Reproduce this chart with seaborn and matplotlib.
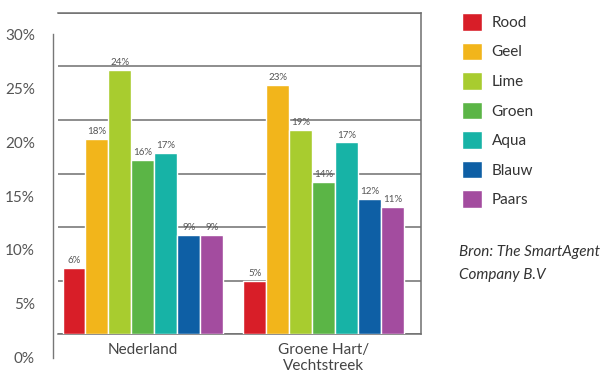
import matplotlib
matplotlib.use("Agg")
import matplotlib.pyplot as plt
import seaborn as sns
import pandas as pd

regions = ["Nederland", "Groene Hart/\nVechtstreek"]
kleuren = ["Rood", "Geel", "Lime", "Groen", "Aqua", "Blauw", "Paars"]
waarden_nl = [6.2, 18.2, 24.7, 16.3, 16.9, 9.3, 9.3]
waarden_ghv = [5.0, 23.3, 19.1, 14.2, 17.9, 12.6, 11.9]
labels_nl = ["6%", "18%", "24%", "16%", "17%", "9%", "9%"]
labels_ghv = ["5%", "23%", "19%", "14%", "17%", "12%", "11%"]
y_ticks = [0, 5, 10, 15, 20, 25, 30]
palette = ["#D81E28", "#F2B51B", "#A8CC2F", "#5BB546", "#17B3A6", "#0E5FA5", "#A34C9F"]

df = pd.DataFrame({
    "region": [regions[0]] * 7 + [regions[1]] * 7,
    "kleur": kleuren * 2,
    "waarde": waarden_nl + waarden_ghv,
})

sns.set_style("white")
plt.rcParams["font.family"] = ["Lato", "DejaVu Sans"]

W, H = 611, 379
fig = plt.figure(figsize=(W / 100, H / 100), dpi=100)
ax = fig.add_axes([58 / W, 1 - 334.3 / H, 363 / W, 321.6 / H])

sns.barplot(data=df, x="region", y="waarde", hue="kleur", palette=palette,
            width=0.89, saturation=1, ax=ax, legend=True, zorder=3)
handles, lbls = ax.get_legend_handles_labels()
ax.get_legend().remove()

ax.set_xlim(-0.47, 1.54)
ax.set_ylim(0, 30)
ax.set_yticks(y_ticks)
ax.yaxis.grid(True, color="#6f6f6f", linewidth=1.1, zorder=0)
ax.set_axisbelow(True)
ax.tick_params(axis="y", left=False, labelleft=False)
ax.tick_params(axis="x", length=0, pad=6, labelsize=11, labelcolor="#444444")
ax.set_xlabel("")
ax.set_ylabel("")
ax.spines["left"].set_visible(False)
for s in ["right", "top", "bottom"]:
    ax.spines[s].set_color("#6f6f6f")
    ax.spines[s].set_linewidth(1.1)

for i, cont in enumerate(ax.containers):
    ax.bar_label(cont, labels=[labels_nl[i], labels_ghv[i]], padding=2,
                 fontsize=7, color="#555555")

# separate left scale
ax2 = fig.add_axes([53 / W, 1 - 357.7 / H, 0.001, 323.4 / H])
ax2.set_ylim(0, 30)
ax2.set_yticks(y_ticks)
ax2.set_yticklabels([f"{t}%" for t in y_ticks])
ax2.set_xticks([])
for s in ["right", "top", "bottom"]:
    ax2.spines[s].set_visible(False)
ax2.spines["left"].set_color("#777777")
ax2.spines["left"].set_linewidth(1.0)
ax2.tick_params(axis="y", length=5, width=1.0, color="#777777", pad=8,
                labelsize=11, labelcolor="#555555")
ax2.patch.set_visible(False)

fig.legend(handles, lbls, loc="upper left", bbox_to_anchor=(462 / W, 1 - 13 / H),
           frameon=False, fontsize=11, handlelength=1.31, handleheight=1.4,
           labelspacing=0.78, handletextpad=0.62, borderpad=0, borderaxespad=0,
           labelcolor="#333333")

fig.text(459 / W, 1 - 252 / H, "Bron: The SmartAgent", fontsize=11,
         style="italic", color="#333333", va="center")
fig.text(459 / W, 1 - 275 / H, "Company B.V", fontsize=11,
         style="italic", color="#333333", va="center")

fig.savefig("out.png", dpi=100)
